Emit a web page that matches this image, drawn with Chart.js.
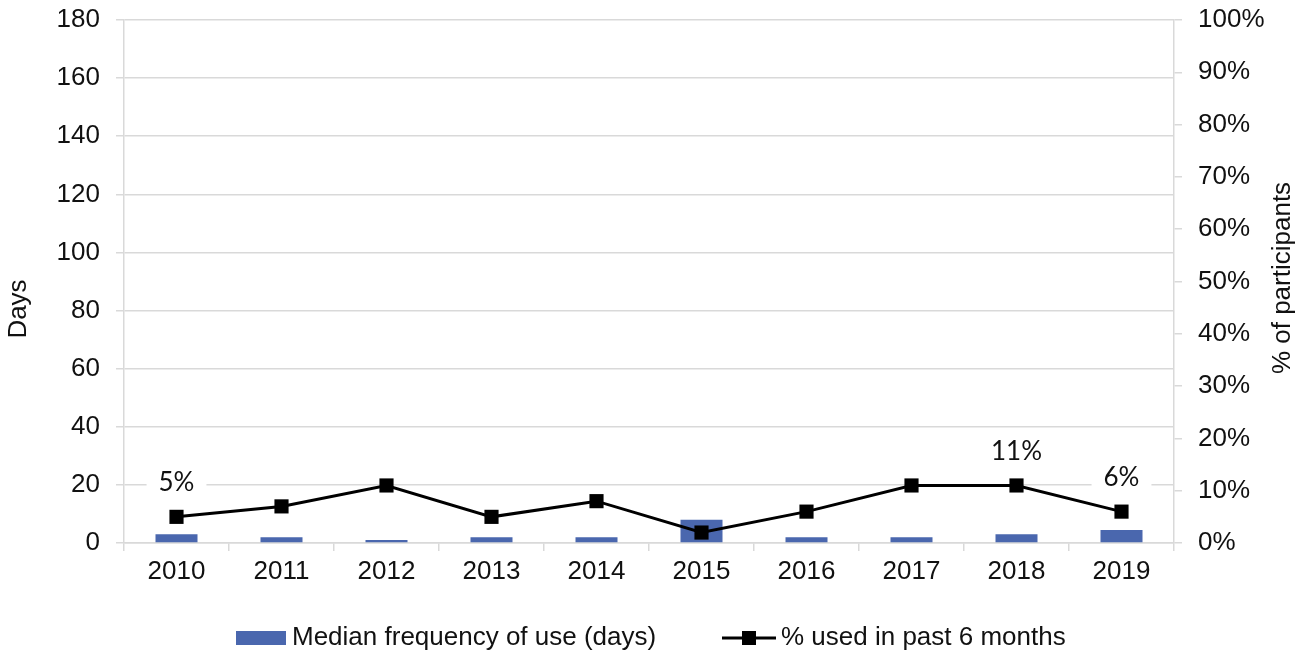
<!DOCTYPE html>
<html>
<head>
<meta charset="utf-8">
<script src="https://cdn.jsdelivr.net/npm/chart.js@4/dist/chart.umd.min.js"></script>
<style>
  html, body { margin: 0; padding: 0; background: #ffffff; }
  #wrap { width: 1311px; height: 654px; position: relative; }
</style>
</head>
<body>
<div id="wrap"><canvas id="chart"></canvas></div>
<script>
// Survey years
const years = ['2010', '2011', '2012', '2013', '2014', '2015', '2016', '2017', '2018', '2019'];
// Median frequency of use, in days (left axis)
const medianDays = [3, 2, 1, 2, 2, 8, 2, 2, 3, 4.5];
// Share of participants who used in the past 6 months, in % (right axis)
const pctUsed = [5, 7, 11, 5, 8, 2, 6, 11, 11, 6];
// Value labels shown above selected points
const pctLabels = ['5%', null, null, null, null, null, null, null, '11%', '6%'];
// Axis ranges
const daysAxis = { min: 0, max: 180, step: 20 };
const pctAxis = { min: 0, max: 100, step: 10 };

const FONT = "'Liberation Sans', Arial, sans-serif";
const TEXT = '#111111';
const GRID = '#d9d9d9';
const BAR = '#4A67AE';

// Point value labels drawn over the line
const valueLabels = {
  id: 'valueLabels',
  afterDatasetsDraw(chart) {
    const ctx = chart.ctx;
    const meta = chart.getDatasetMeta(1);
    ctx.save();
    ctx.font = "26px Lato, 'Open Sans', sans-serif";
    ctx.textAlign = 'center';
    ctx.textBaseline = 'middle';
    pctLabels.forEach((txt, i) => {
      if (!txt) return;
      const p = meta.data[i];
      const y = p.y - 34;
      const w = ctx.measureText(txt).width;
      ctx.fillStyle = '#ffffff';
      ctx.fillRect(p.x - w / 2 - 12, y - 14, w + 24, 28);
      ctx.fillStyle = TEXT;
      ctx.fillText(txt, p.x, y);
    });
    ctx.restore();
  }
};

// Axis titles (both read bottom-to-top) and the legend row
const frame = {
  id: 'frame',
  afterDraw(chart) {
    const ctx = chart.ctx;
    ctx.save();
    ctx.fillStyle = TEXT;
    ctx.font = '26px ' + FONT;
    ctx.textAlign = 'center';
    ctx.textBaseline = 'middle';

    ctx.save();
    ctx.translate(19, 309);
    ctx.rotate(-Math.PI / 2);
    ctx.fillText('Days', 0, 0);
    ctx.restore();

    ctx.save();
    ctx.translate(1283, 278);
    ctx.rotate(-Math.PI / 2);
    ctx.fillText('% of participants', 0, 0);
    ctx.restore();

    // legend
    const ly = 638;
    const ds = chart.data.datasets;
    ctx.textAlign = 'left';
    ctx.fillStyle = BAR;
    ctx.fillRect(236, ly - 7, 50, 14);
    ctx.fillStyle = TEXT;
    ctx.fillText(ds[0].label, 292, ly);

    ctx.strokeStyle = '#000000';
    ctx.lineWidth = 3;
    ctx.beginPath();
    ctx.moveTo(722, ly);
    ctx.lineTo(776, ly);
    ctx.stroke();
    ctx.fillStyle = '#000000';
    ctx.fillRect(749 - 7, ly - 7, 14, 14);
    ctx.fillStyle = TEXT;
    ctx.fillText(ds[1].label, 781, ly);
    ctx.restore();
  }
};

function fixVertical(width) {
  return s => { s.width = width; s.paddingTop = 0; s.paddingBottom = 0; };
}

new Chart(document.getElementById('chart'), {
  data: {
    labels: years,
    datasets: [
      {
        type: 'bar',
        label: 'Median frequency of use (days)',
        data: medianDays,
        yAxisID: 'y',
        backgroundColor: BAR,
        borderWidth: 0,
        barPercentage: 0.4,
        categoryPercentage: 1.0,
        order: 2
      },
      {
        type: 'line',
        label: '% used in past 6 months',
        data: pctUsed,
        yAxisID: 'y1',
        borderColor: '#000000',
        borderWidth: 3,
        pointStyle: 'rect',
        pointRadius: 10,
        pointBackgroundColor: '#000000',
        pointBorderColor: '#000000',
        pointBorderWidth: 0,
        tension: 0,
        order: 1
      }
    ]
  },
  options: {
    responsive: true,
    maintainAspectRatio: false,
    animation: false,
    layout: { padding: { top: 20, bottom: 51, left: 0, right: 0 } },
    plugins: {
      legend: { display: false },
      tooltip: { enabled: false }
    },
    scales: {
      x: {
        offset: true,
        afterFit(s) { s.height = 60; s.paddingLeft = 0; s.paddingRight = 0; },
        grid: { offset: true, drawOnChartArea: false, drawTicks: true, tickLength: 8, color: GRID, lineWidth: 1.5 },
        border: { display: true, color: GRID, width: 1.5 },
        ticks: { font: { family: FONT, size: 26 }, color: TEXT, padding: 5, maxRotation: 0 }
      },
      y: {
        position: 'left',
        min: daysAxis.min,
        max: daysAxis.max,
        afterFit: fixVertical(124),
        grid: { drawOnChartArea: true, drawTicks: true, tickLength: 8, color: GRID, lineWidth: 1.5 },
        border: { display: true, color: GRID, width: 1.5 },
        ticks: { stepSize: daysAxis.step, font: { family: FONT, size: 26 }, color: TEXT, padding: 16 }
      },
      y1: {
        position: 'right',
        min: pctAxis.min,
        max: pctAxis.max,
        afterFit: fixVertical(137),
        grid: { drawOnChartArea: false, drawTicks: true, tickLength: 8, color: GRID, lineWidth: 1.5 },
        border: { display: true, color: GRID, width: 1.5 },
        ticks: { stepSize: pctAxis.step, font: { family: FONT, size: 26 }, color: TEXT, padding: 16,
                 callback: v => v + '%' }
      }
    }
  },
  plugins: [valueLabels, frame]
});
</script>
</body>
</html>
